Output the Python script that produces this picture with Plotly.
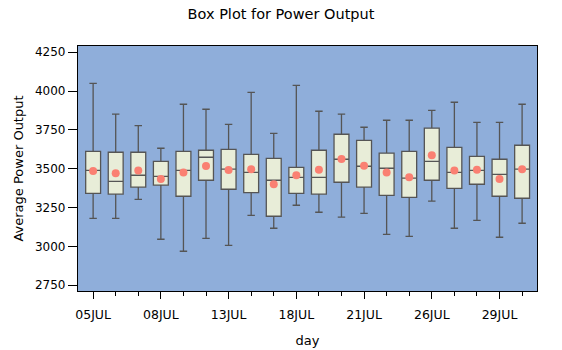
import plotly.graph_objects as go

days = ["05JUL", "06JUL", "07JUL", "08JUL", "11JUL", "12JUL", "13JUL", "14JUL", "15JUL", "18JUL",
        "19JUL", "20JUL", "21JUL", "22JUL", "25JUL", "26JUL", "27JUL", "28JUL", "29JUL", "01AUG"]
upper = [4050, 3851, 3778, 3632, 3915, 3883, 3786, 3992, 3728, 4037,
         3870, 3851, 3767, 3812, 3812, 3876, 3928, 3799, 3799, 3915]
q3 = [3612, 3606, 3606, 3548, 3612, 3619, 3625, 3593, 3567, 3509,
      3619, 3722, 3683, 3600, 3612, 3761, 3638, 3580, 3561, 3651]
median = [3490, 3419, 3458, 3451, 3490, 3574, 3497, 3477, 3426, 3445,
          3445, 3561, 3516, 3503, 3439, 3548, 3477, 3490, 3464, 3497]
q1 = [3342, 3336, 3381, 3394, 3323, 3426, 3368, 3346, 3194, 3342,
      3336, 3413, 3381, 3329, 3316, 3426, 3374, 3400, 3323, 3310]
lower = [3181, 3181, 3303, 3046, 2969, 3052, 3007, 3200, 3117, 3265,
         3220, 3188, 3213, 3078, 3065, 3291, 3117, 3168, 3059, 3149]
mean = [3486, 3471, 3488, 3434, 3475, 3518, 3492, 3497, 3400, 3458,
        3494, 3563, 3520, 3475, 3445, 3587, 3488, 3494, 3434, 3497]
y_ticks = [2750, 3000, 3250, 3500, 3750, 4000, 4250]

pos = list(range(len(days)))
FONT = "DejaVu Sans"

fig = go.Figure()
fig.add_trace(go.Box(
    x=pos, q1=q1, median=median, q3=q3, lowerfence=lower, upperfence=upper,
    width=0.66, whiskerwidth=0.5, boxpoints=False,
    fillcolor="#E8EDD8", line=dict(color="#555555", width=1.3),
    showlegend=False, hoverinfo="skip",
))
fig.add_trace(go.Scatter(
    x=pos, y=mean, mode="markers",
    marker=dict(color="#FA8072", size=8, line=dict(width=0)),
    showlegend=False, hoverinfo="skip",
))

label_idx = pos[::3]
fig.update_layout(
    width=562, height=350,
    margin=dict(l=78, r=25, t=46, b=59),
    paper_bgcolor="white", plot_bgcolor="#8FAEDA",
    font=dict(family=FONT, color="black", size=12.5),
    title=dict(text="Box Plot for Power Output", x=0.5, xanchor="center",
               y=1 - 13.5 / 350, yanchor="middle", yref="container",
               font=dict(family=FONT, size=14.5, color="black")),
    xaxis=dict(
        range=[-0.67, len(days) - 1 + 0.66],
        tickmode="array", tickvals=label_idx, ticktext=[days[i] for i in label_idx],
        ticks="outside", ticklen=7, tickcolor="black", tickwidth=1,
        ticklabelstandoff=5, automargin=False,
        minor=dict(dtick=1, tick0=0, ticks="outside", ticklen=3.5, tickcolor="black"),
        showgrid=False, zeroline=False,
        showline=True, linecolor="black", linewidth=1.3, mirror=True,
        tickfont=dict(family=FONT, size=12.5),
        title=dict(text="day", font=dict(family=FONT, size=13), standoff=14),
    ),
    yaxis=dict(
        range=[2713, 4290], automargin=False,
        tickmode="array", tickvals=y_ticks, ticktext=[str(v) for v in y_ticks],
        ticks="outside", ticklen=9, tickcolor="black", tickwidth=1,
        showgrid=False, zeroline=False,
        showline=True, linecolor="black", linewidth=1.3, mirror=True,
        tickfont=dict(family=FONT, size=12),
        title=dict(text="Average Power Output", font=dict(family=FONT, size=13), standoff=8),
    ),
)

fig.write_html("out.html")
